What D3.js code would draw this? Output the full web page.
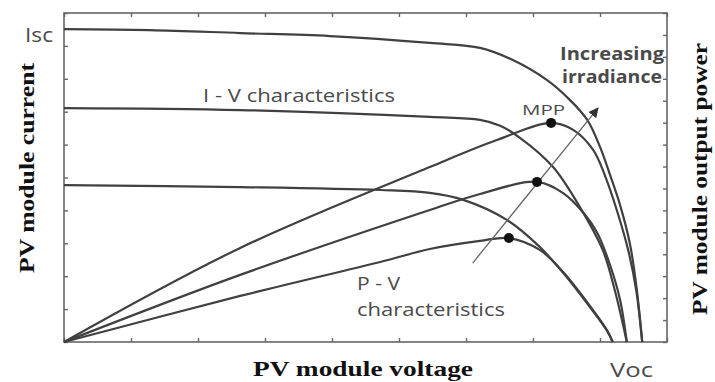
<!DOCTYPE html>
<html>
<head>
<meta charset="utf-8">
<script src="https://cdn.jsdelivr.net/npm/d3@7"></script>
<style>
body { margin: 0; background: #fff; }
svg { display: block; }
.lbl { font-family: "Open Sans", sans-serif; fill: #4a4a4a; }
.ttl { font-family: "Liberation Serif", serif; font-weight: bold; fill: #111; }
</style>
</head>
<body>
<div id="chart"></div>
<script>
// voltage in grid divisions (0-9), current 0-10, power 0-15
var ivHighV = [0, 1.28, 2.63, 3.97, 5.46, 6.21, 6.70, 7.21, 7.55, 7.81, 8.00, 8.15, 8.30, 8.45, 8.55, 8.63];
var ivHighI = [9.51, 9.48, 9.39, 9.30, 9.09, 8.94, 8.57, 7.96, 7.36, 6.75, 5.93, 5.08, 4.16, 2.95, 1.58, 0];
var ivMidV = [0, 2.63, 5.46, 6.21, 6.51, 6.81, 7.30, 7.70, 8.04, 8.22, 8.40];
var ivMidI = [7.11, 7.05, 6.84, 6.75, 6.57, 6.20, 5.32, 4.10, 2.80, 1.58, 0];
var ivLowV = [0, 2.63, 4.72, 5.46, 5.96, 6.61, 7.10, 7.45, 7.85, 8.10, 8.19];
var ivLowI = [4.77, 4.71, 4.62, 4.53, 4.32, 3.71, 2.89, 2.10, 1.06, 0.36, 0];

var pvHighV = [0, 2.63, 5.46, 6.46, 7.27, 7.60, 7.90, 8.07, 8.25, 8.42, 8.54, 8.63];
var pvHighP = [0, 4.29, 7.98, 9.21, 9.99, 9.67, 8.75, 7.62, 6.02, 4.20, 2.37, 0];
var pvMidV = [0, 2.63, 5.46, 6.21, 7.06, 7.45, 7.78, 7.96, 8.15, 8.30, 8.40];
var pvMidP = [0, 3.06, 6.02, 6.75, 7.30, 6.79, 5.79, 4.97, 3.51, 1.92, 0];
var pvLowV = [0, 2.63, 4.72, 5.46, 6.21, 6.64, 7.10, 7.45, 7.85, 8.10, 8.19];
var pvLowP = [0, 2.10, 3.65, 4.24, 4.61, 4.74, 4.20, 3.19, 1.64, 0.55, 0];

// maximum power points
var mppV = [6.64, 7.06, 7.27];
var mppP = [4.74, 7.30, 9.99];

// irradiance arrow (voltage, current units)
var arrowV = [6.10, 7.97];
var arrowI = [2.40, 7.11];

var width = 715, height = 382;
var plotL = 64, plotR = 667, plotT = 13, plotB = 342;

var svg = d3.select('#chart').append('svg')
    .attr('width', width)
    .attr('height', height);

let x = d3.scaleLinear().domain([0, 9]).range([plotL, plotR]);
let yI = d3.scaleLinear().domain([0, 10]).range([plotB, plotT]);
let yP = d3.scaleLinear().domain([0, 15]).range([plotB, plotT]);

function zip(a, b) { return a.map((v, i) => [v, b[i]]); }

// ticks, pointing inward
function tickAxis(axis, tr) {
    let g = svg.append('g').attr('transform', tr)
        .call(axis.tickSizeInner(-4).tickSizeOuter(0).tickFormat(''));
    g.select('.domain').remove();
    g.selectAll('line').attr('stroke', '#666').attr('stroke-width', 1.4);
}
tickAxis(d3.axisBottom(x).ticks(9), 'translate(0,' + plotB + ')');
tickAxis(d3.axisTop(x).ticks(9), 'translate(0,' + plotT + ')');
tickAxis(d3.axisLeft(yI).ticks(10), 'translate(' + plotL + ',0)');
tickAxis(d3.axisRight(yP).ticks(15), 'translate(' + plotR + ',0)');

svg.append('rect')
    .attr('x', plotL).attr('y', plotT)
    .attr('width', plotR - plotL).attr('height', plotB - plotT)
    .attr('fill', 'none').attr('stroke', '#666').attr('stroke-width', 1.6);

let ivLine = d3.line().x(d => x(d[0])).y(d => yI(d[1])).curve(d3.curveCatmullRom.alpha(0.5));
let pvLine = d3.line().x(d => x(d[0])).y(d => yP(d[1])).curve(d3.curveCatmullRom.alpha(0.5));

[zip(ivHighV, ivHighI), zip(ivMidV, ivMidI), zip(ivLowV, ivLowI)].forEach(c => {
    svg.append('path').attr('d', ivLine(c))
        .attr('fill', 'none').attr('stroke', '#404040').attr('stroke-width', 2.2);
});
[zip(pvHighV, pvHighP), zip(pvMidV, pvMidP), zip(pvLowV, pvLowP)].forEach(c => {
    svg.append('path').attr('d', pvLine(c))
        .attr('fill', 'none').attr('stroke', '#404040').attr('stroke-width', 2.2);
});

// arrow
svg.append('defs').append('marker')
    .attr('id', 'head')
    .attr('viewBox', '0 0 10 10')
    .attr('refX', 9).attr('refY', 5)
    .attr('markerWidth', 10).attr('markerHeight', 10)
    .attr('markerUnits', 'userSpaceOnUse')
    .attr('orient', 'auto')
    .append('path').attr('d', 'M0,0L10,5L0,10Z').attr('fill', '#333');

svg.append('line')
    .attr('x1', x(arrowV[0])).attr('y1', yI(arrowI[0]))
    .attr('x2', x(arrowV[1])).attr('y2', yI(arrowI[1]))
    .attr('stroke', '#666').attr('stroke-width', 1.3)
    .attr('marker-end', 'url(#head)');

svg.selectAll('circle.mpp').data(mppV).enter()
    .append('circle')
    .attr('class', 'mpp')
    .attr('cx', d => x(d))
    .attr('cy', (d, i) => yP(mppP[i]))
    .attr('r', 5)
    .attr('fill', '#111');

// labels
function label(txt, px, py, size, len, cls, extra) {
    let t = svg.append('text')
        .attr('class', cls)
        .attr('x', px).attr('y', py)
        .attr('font-size', size)
        .attr('textLength', len)
        .attr('lengthAdjust', 'spacingAndGlyphs')
        .text(txt);
    if (extra) extra(t);
    return t;
}
label('Isc', 25, 42, 20, 28, 'lbl');
label('I - V characteristics', 203, 102, 18, 192, 'lbl');
label('MPP', 522, 115, 15, 43, 'lbl');
label('Increasing', 560, 60, 17, 104, 'lbl', t => t.attr('font-weight', 'bold'));
label('irradiance', 562, 83, 17, 100, 'lbl', t => t.attr('font-weight', 'bold'));
label('P - V', 357, 290, 18, 43, 'lbl');
label('characteristics', 357, 316, 18, 148, 'lbl');
label('Voc', 610, 377, 20, 43, 'lbl');

label('PV module voltage', 253, 376, 22, 220, 'ttl');
label('PV module current', 0, 0, 22, 210, 'ttl', t => t
    .attr('text-anchor', 'middle')
    .attr('transform', 'translate(34,168) rotate(-90)'));
label('PV module output power', 0, 0, 22, 272, 'ttl', t => t
    .attr('text-anchor', 'middle')
    .attr('transform', 'translate(707,179) rotate(-90)'));
</script>
</body>
</html>
